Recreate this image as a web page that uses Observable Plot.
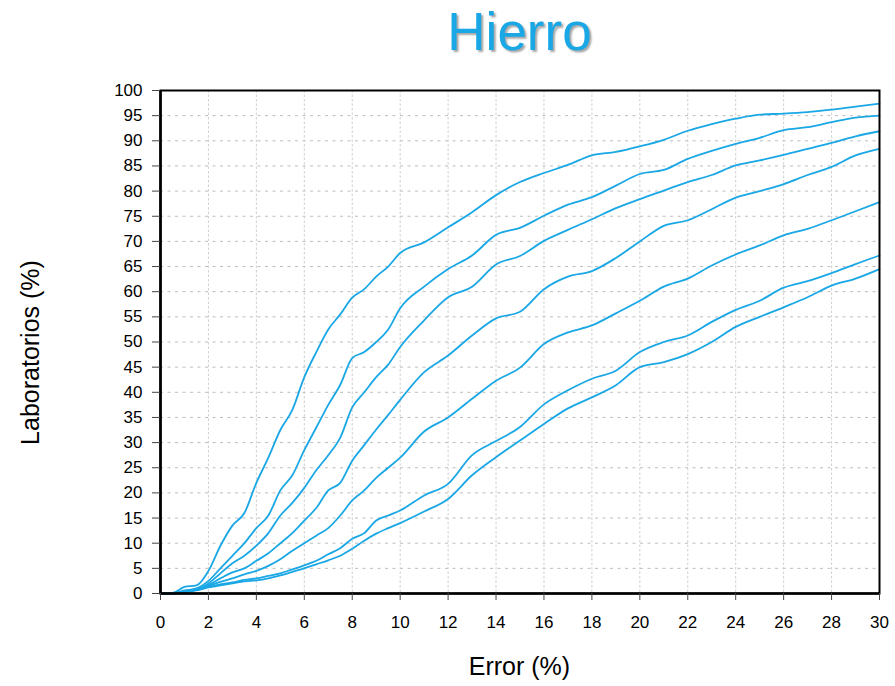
<!DOCTYPE html>
<html>
<head>
<meta charset="utf-8">
<script src="https://cdn.jsdelivr.net/npm/d3@7"></script>
<script src="https://cdn.jsdelivr.net/npm/@observablehq/plot@0.6"></script>
<style>
  body { margin: 0; background: #fff; }
  #chart { position: relative; width: 895px; height: 686px; font-family: "Liberation Sans", Arial, sans-serif; color: #000; }
  #chart svg { position: absolute; left: 0; top: 0; }
  .title { position: absolute; left: 160px; width: 719px; top: 5px; margin: 0; text-align: center;
           font-size: 53px; line-height: 1; font-weight: normal; color: #19a7e5;
           text-shadow: 2px 2px 2px rgba(0,0,0,0.35); }
  .xlabel { position: absolute; left: 160px; width: 719px; top: 654px; text-align: center;
            font-size: 25px; line-height: 1; }
  .ylabel { position: absolute; left: -120px; top: 340px; width: 300px; height: 25px; text-align: center;
            font-size: 25px; line-height: 25px; transform: rotate(-90deg); }
</style>
</head>
<body>
<div id="chart">
  <h1 class="title">Hierro</h1>
  <div class="xlabel">Error (%)</div>
  <div class="ylabel">Laboratorios (%)</div>
</div>
<script>
// Error (%) positions shared by every curve
const errorPct = [0,0.5,1,1.5,2,2.5,3,3.5,4,4.5,5,5.5,6,6.5,7,7.5,8,8.5,9,9.5,10,
  11,12,13,14,15,16,17,18,19,20,21,22,23,24,25,26,27,28,29,30];

// Cumulative share of laboratories (%) for each curve, top to bottom
const curveA = [0,0.1,1.3,1.6,4.5,9.5,13.5,16,22,27,32.5,36.5,43,48,52.5,55.5,58.8,60.5,63,65,67.7,
  69.8,72.8,75.8,79.2,81.8,83.6,85.2,87.1,87.8,88.9,90.2,92.0,93.3,94.4,95.2,95.4,95.7,96.2,96.8,97.4];
const curveB = [0,0,0.6,1.0,2.5,5,7.5,10,13,15.5,20.5,23.5,28.5,33,37.5,41.5,46.8,48,50,52.5,56.7,
  61,64.5,67.2,71.3,72.7,75.1,77.3,78.8,81.1,83.4,84.2,86.4,88.0,89.4,90.6,92.1,92.7,93.7,94.6,95.0];
const curveC = [0,0,0.5,0.8,2,4,6,7.5,9.5,12,15.5,18,21,24.5,27.5,31,37,40,43,45.5,49,
  54.3,58.9,61,65.4,67.1,70.1,72.3,74.4,76.6,78.4,80.1,81.8,83.2,85.1,86.1,87.2,88.4,89.6,90.9,91.9];
const curveD = [0,0,0.4,0.7,1.7,3,4.2,5,6.5,8,10,12,14.5,17,20.5,22,26.4,29.5,32.6,35.5,38.5,
  44,47.3,51.3,54.7,56,60.5,63,64.1,66.7,70,73.1,74.2,76.4,78.7,80,81.4,83.2,84.8,87.1,88.4];
const curveE = [0,0,0.4,0.8,1.5,2.3,3,3.8,4.5,5.5,6.8,8.5,10,11.5,13,15.5,18.5,20.5,23,25,27,
  32.2,35,38.7,42.3,44.9,49.6,51.9,53.3,55.7,58.2,61,62.6,65.2,67.4,69.2,71.2,72.5,74.2,76,77.8];
const curveF = [0,0,0.3,0.7,1.3,1.8,2.2,2.7,3,3.5,4,4.8,5.6,6.5,7.8,9,10.9,12,14.5,15.5,16.5,
  19.5,21.8,27.5,30.3,33.1,37.6,40.4,42.7,44.3,48,50,51.3,54,56.4,58.2,60.8,62.1,63.7,65.5,67.2];
const curveG = [0,0,0.3,0.6,1.2,1.6,2,2.4,2.6,3,3.6,4.3,5,5.8,6.6,7.5,8.9,10.5,11.9,13,14,
  16.3,18.8,23.5,27.1,30.4,33.7,36.8,39,41.4,45,46,47.6,50,53,55,56.9,58.9,61.2,62.6,64.5];

const xTicks = d3.range(0, 31, 2);
const yTicks = d3.range(0, 101, 5);

const curves = {A: curveA, B: curveB, C: curveC, D: curveD, E: curveE, F: curveF, G: curveG};
const rows = Object.entries(curves).flatMap(([name, values]) =>
  values.map((v, i) => ({series: name, error: errorPct[i], labs: v})));

const lineColor = "#19a7e5";

const chart = Plot.plot({
  width: 895,
  height: 686,
  marginLeft: 160,
  marginRight: 16,
  marginTop: 90,
  marginBottom: 93,
  style: {fontFamily: "Liberation Sans, Arial, sans-serif", fontSize: "17px", color: "#000", background: "transparent"},
  x: {domain: [0, 30]},
  y: {domain: [0, 100]},
  marks: [
    Plot.gridY(yTicks.slice(1, -1), {stroke: "#bdbdbd", strokeOpacity: 1, strokeDasharray: "3,4.5"}),
    Plot.gridX(xTicks.slice(1, -1), {stroke: "#cfcfcf", strokeOpacity: 1, strokeDasharray: "2.5,2"}),
    Plot.line(rows, {x: "error", y: "labs", z: "series", stroke: lineColor, strokeWidth: 1.8, curve: "monotone-x"}),
    Plot.frame({stroke: "#000", strokeWidth: 2}),
    Plot.ruleX([0], {stroke: "#000", strokeWidth: 2.6}),
    Plot.ruleY([0], {stroke: "#000", strokeWidth: 2.6}),
    Plot.axisX(xTicks, {tickSize: 7, tickPadding: 15, stroke: "#444", label: null, fill: "#000"}),
    Plot.axisY(yTicks, {tickSize: 8, tickPadding: 10, stroke: "#444", label: null, fill: "#000"})
  ]
});

document.getElementById("chart").prepend(chart);
</script>
</body>
</html>
